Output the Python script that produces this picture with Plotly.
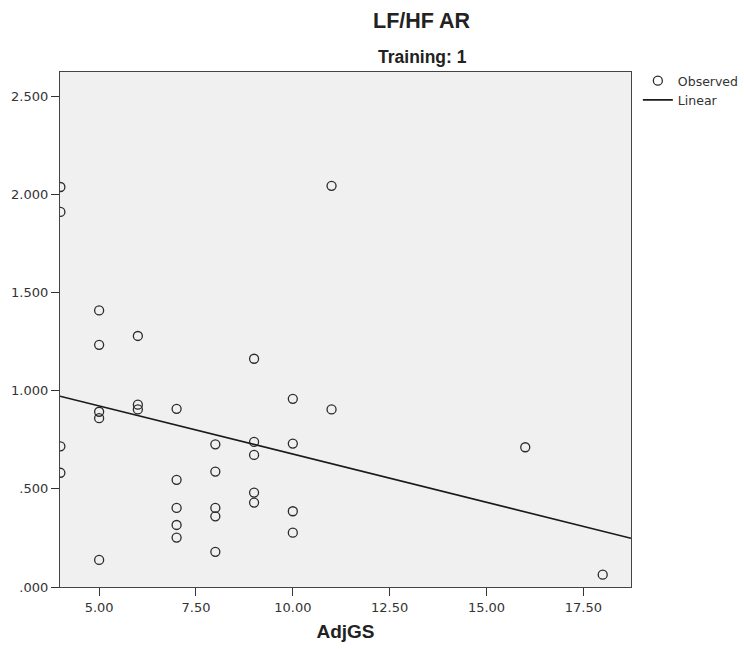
import plotly.graph_objects as go

adjgs = [4, 4, 4, 4,
         5, 5, 5, 5, 5,
         6, 6, 6,
         7, 7, 7, 7, 7,
         8, 8, 8, 8, 8,
         9, 9, 9, 9, 9,
         10, 10, 10, 10,
         11, 11,
         16,
         18]
lfhf_ar = [2.038, 1.911, 0.717, 0.582,
           1.409, 1.234, 0.893, 0.860, 0.138,
           1.279, 0.929, 0.905,
           0.908, 0.546, 0.403, 0.316, 0.252,
           0.727, 0.588, 0.403, 0.360, 0.179,
           1.163, 0.739, 0.673, 0.481, 0.430,
           0.959, 0.731, 0.386, 0.277,
           2.044, 0.905,
           0.712,
           0.063]

# Linear fit line as drawn in the picture
fit_intercept = 1.168
fit_slope = -0.0491

x_range = [3.99, 18.73]
y_range = [0, 2.624]

x_ticks = [5, 7.5, 10, 12.5, 15, 17.5]
x_tick_labels = ["5.00", "7.50", "10.00", "12.50", "15.00", "17.50"]
y_ticks = [0, 0.5, 1.0, 1.5, 2.0, 2.5]
y_tick_labels = [".000", ".500", "1.000", "1.500", "2.000", "2.500"]

title_text = "LF/HF AR"
subtitle_text = "Training: 1"
x_title = "AdjGS"

line_x = x_range
line_y = [fit_intercept + fit_slope * v for v in line_x]

tick_font = dict(family="DejaVu Sans", size=13, color="#333333")

plot_top = 72
plot_bottom_margin = 62
plot_h = 649 - plot_top - plot_bottom_margin


def px_to_paper_y(py):
    return 1 + (plot_top - py) / plot_h


fig = go.Figure()
fig.add_trace(go.Scatter(
    x=adjgs, y=lfhf_ar, mode="markers", name="Observed",
    marker=dict(symbol="circle-open", size=9, color="#2b2b2b",
                line=dict(width=1.3, color="#2b2b2b")),
    cliponaxis=True,
))
fig.add_trace(go.Scatter(
    x=line_x, y=line_y, mode="lines", name="Linear",
    line=dict(color="#1a1a1a", width=1.7),
))

fig.update_layout(
    width=744, height=649, autosize=False,
    margin=dict(l=60, r=113, t=plot_top, b=plot_bottom_margin, autoexpand=False),
    paper_bgcolor="white", plot_bgcolor="#f0f0f0",
    showlegend=True,
    legend=dict(x=1.012, y=px_to_paper_y(66), xanchor="left", yanchor="top",
                font=dict(family="DejaVu Sans", size=12.5, color="#333333"),
                bgcolor="rgba(0,0,0,0)", itemwidth=30, tracegroupgap=0),
    annotations=[
        dict(text="<b>" + title_text + "</b>", x=0.634, y=px_to_paper_y(21),
             xref="paper", yref="paper",
             showarrow=False, font=dict(family="Liberation Sans", size=21.5, color="#222222"),
             xanchor="center", yanchor="middle"),
        dict(text="<b>" + subtitle_text + "</b>", x=0.634, y=px_to_paper_y(57),
             xref="paper", yref="paper",
             showarrow=False, font=dict(family="Liberation Sans", size=17.5, color="#222222"),
             xanchor="center", yanchor="middle"),
    ],
)

fig.update_xaxes(
    range=x_range, tickvals=x_ticks, ticktext=x_tick_labels,
    ticks="outside", ticklen=8, tickcolor="#333333", tickwidth=1.2,
    showline=True, linecolor="#444444", linewidth=1.2, mirror=True,
    showgrid=False, zeroline=False, tickfont=tick_font,
    title=dict(text="<b>" + x_title + "</b>", standoff=10,
               font=dict(family="Liberation Sans", size=19, color="#222222")),
)
fig.update_yaxes(
    range=y_range, tickvals=y_ticks, ticktext=y_tick_labels,
    ticks="outside", ticklen=8, tickcolor="#333333", tickwidth=1.2,
    showline=True, linecolor="#444444", linewidth=1.2, mirror=True,
    showgrid=False, zeroline=False, tickfont=tick_font,
)

fig.write_html("out.html")
